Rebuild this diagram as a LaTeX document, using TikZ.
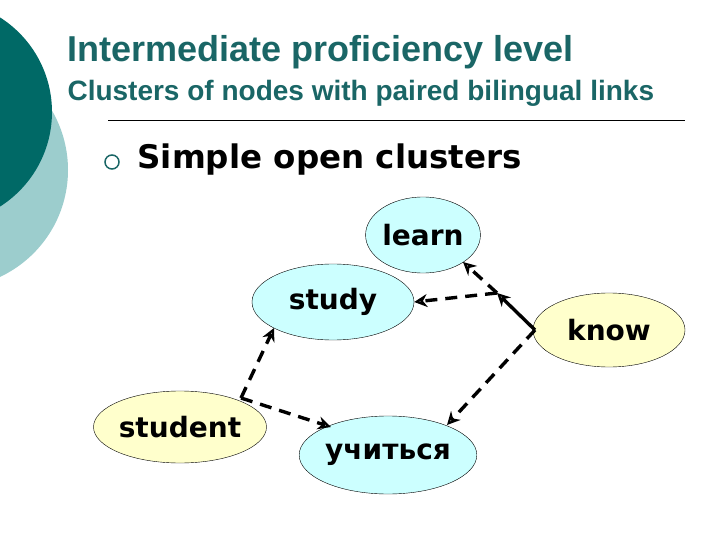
\documentclass[tikz,border=0pt]{standalone}
\usepackage{fontspec}
\setmainfont{Liberation Sans}
\newfontfamily\dvs{DejaVu Sans}
\definecolor{teal1}{HTML}{006966}
\definecolor{teal2}{HTML}{9CCDCD}
\definecolor{titlec}{HTML}{1A6666}
\definecolor{cyanf}{HTML}{CCFFFF}
\definecolor{yelf}{HTML}{FFFFCC}
\tikzset{
 bub/.style={ellipse,draw=black,thin,inner sep=0pt,font=\dvs\bfseries\fontsize{28}{30}\selectfont},
 lnk/.style={line width=3.4pt,dash pattern=on 12pt off 8pt,-{Stealth[length=13pt,width=13pt,open]}},
 sol/.style={line width=3.4pt,-{Stealth[length=13pt,width=13pt,open]}},
}
\usetikzlibrary{shapes.geometric,arrows.meta}
\begin{document}
\begin{tikzpicture}[x=1pt,y=-1pt]
\useasboundingbox (0,0) rectangle (720,540);
\fill[teal2] (-50,170) circle (118);
\fill[teal1] (-60,112) circle (112);
\node[anchor=west,text=titlec,font=\bfseries\fontsize{36}{40}\selectfont] (t1) at (64,52) {Intermediate proficiency level};
\node[anchor=west,text=titlec,font=\bfseries\fontsize{28}{32}\selectfont] (t2) at (64,93) {Clusters of nodes with paired bilingual links};
\draw[thin] (108,120) -- (685,120);
\node[circle,draw=titlec,line width=1.5pt,minimum size=14pt,inner sep=0pt] (b) at (112,162) {};
\node[anchor=west,font=\dvs\bfseries\fontsize{32.5}{36}\selectfont] (t3) at (134,160) {Simple open clusters};
\node[bub,fill=cyanf,minimum width=110pt,minimum height=76pt] (learn) at (423,235) {learn};
\node[bub,fill=cyanf,minimum width=162pt,minimum height=76pt] (study) at (333,302) {study};
\node[bub,fill=yelf,minimum width=152pt,minimum height=74pt] (know) at (609,330) {know};
\node[bub,fill=yelf,minimum width=162pt,minimum height=72pt] (student) at (180,427) {student};
\node[bub,fill=cyanf,minimum width=162pt,minimum height=78pt] (uch) at (388,455) {учиться};
\coordinate (j) at (497,293);
\coordinate (ks) at (535,330);
\coordinate (ss) at (241,398);
\draw[sol] (ks) -- (j);
\draw[lnk] (j) -- (463,262);
\draw[lnk] (j) -- (study.east);
\draw[lnk] (ks) -- (447,425);
\draw[lnk] (ss) -- (274,328);
\draw[lnk] (ss) -- (331,427);
\end{tikzpicture}
\end{document}
